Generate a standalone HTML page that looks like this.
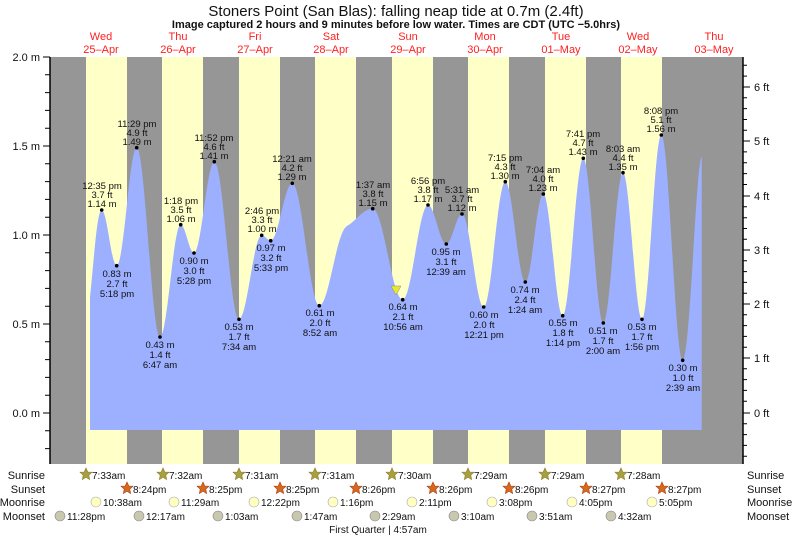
<!DOCTYPE html>
<html><head><meta charset="utf-8"><style>
body{margin:0;background:#fff}
svg{display:block;font-family:"Liberation Sans",sans-serif}
</style></head><body>
<svg width="793" height="537" viewBox="0 0 793 537">
<text x="396" y="16" font-size="15" text-anchor="middle" fill="#111">Stoners Point (San Blas): falling  neap tide at 0.7m (2.4ft)</text>
<text x="396" y="28" font-size="11" font-weight="bold" text-anchor="middle" fill="#111">Image captured 2 hours and 9 minutes before low water. Times are CDT (UTC −5.0hrs)</text>
<g font-size="11" fill="#ff2020" text-anchor="middle">
<text x="101" y="40">Wed</text><text x="101" y="53">25–Apr</text>
<text x="178" y="40">Thu</text><text x="178" y="53">26–Apr</text>
<text x="255" y="40">Fri</text><text x="255" y="53">27–Apr</text>
<text x="331" y="40">Sat</text><text x="331" y="53">28–Apr</text>
<text x="408" y="40">Sun</text><text x="408" y="53">29–Apr</text>
<text x="485" y="40">Mon</text><text x="485" y="53">30–Apr</text>
<text x="561" y="40">Tue</text><text x="561" y="53">01–May</text>
<text x="638" y="40">Wed</text><text x="638" y="53">02–May</text>
<text x="714" y="40">Thu</text><text x="714" y="53">03–May</text>
</g>
<rect x="50" y="57" width="693" height="407" fill="#969696"/>
<g fill="#ffffc8">
<rect x="86" y="57" width="41" height="407"/><rect x="162" y="57" width="41" height="407"/>
<rect x="239" y="57" width="41" height="407"/><rect x="315" y="57" width="41" height="407"/>
<rect x="392" y="57" width="41" height="407"/><rect x="468" y="57" width="41" height="407"/>
<rect x="545" y="57" width="41" height="407"/><rect x="621" y="57" width="41" height="407"/>
</g>
<path fill="#9db0ff" d="M90,430 L90,297 C94,260 97,210 101.7,210 C107.1,210 111.3,265.7 116.7,265.7 C123.9,265.7 129.5,147.7 136.7,147.7 C145.1,147.7 151.6,337 160,337 C167.5,337 173.2,224.7 180.7,224.7 C185.5,224.7 189.2,253 194,253 C201.3,253 207,161.7 214.3,161.7 C223.2,161.7 230.1,319.3 239,319.3 C247.2,319.3 253.5,235.3 261.7,235.3 C264.9,235.3 267.5,240.7 270.7,240.7 C278.5,240.7 284.5,183.3 292.3,183.3 C302,183.3 309.6,305.7 319.3,305.7 C329,305.7 336,232 347,226 C356,221 363,208.7 372.7,208.7 C383.5,208.7 391.9,299.7 402.7,299.7 C411.8,299.7 418.9,205 428,205 C434.6,205 439.7,244 446.3,244 C452,244 456.3,214 462,214 C469.8,214 475.9,307 483.7,307 C491.5,307 497.5,181.7 505.3,181.7 C512.5,181.7 518.1,282 525.3,282 C531.8,282 536.8,194 543.3,194 C550.3,194 555.7,315.7 562.7,315.7 C570.1,315.7 575.9,158.3 583.3,158.3 C590.5,158.3 596.1,323 603.3,323 C610.4,323 615.9,172.7 623,172.7 C629.8,172.7 635.2,319.3 642,319.3 C649,319.3 654.3,135 661.3,135 C669,135 675,360.3 682.7,360.3 C690,360.3 696,162 701.7,156.7 L701.7,430 Z"/>
<polygon points="391,286 401,286 396,295" fill="#e8e830" stroke="#888" stroke-width="0.5"/>
<!-- axes -->
<line x1="50" y1="57" x2="50" y2="464" stroke="#000" stroke-width="1.5"/>
<line x1="743" y1="57" x2="743" y2="464" stroke="#000" stroke-width="1.5"/>
<g stroke="#000" stroke-width="1">
<path d="M43,57H50M45,74.8H50M45,92.6H50M45,110.4H50M45,128.2H50M43,146H50M45,163.8H50M45,181.6H50M45,199.4H50M45,217.2H50M43,235H50M45,252.8H50M45,270.6H50M45,288.4H50M45,306.2H50M43,324H50M45,341.8H50M45,359.6H50M45,377.4H50M45,395.2H50M43,413H50M45,430.8H50M45,448.6H50"/>
<path d="M743,87H750M743,141H750M743,196H750M743,250H750M743,304H750M743,358H750M743,413H750"/>
<path d="M743,65.3H747M743,76.1H747M743,97.8H747M743,108.6H747M743,119.5H747M743,130.2H747M743,151.9H747M743,162.8H747M743,173.6H747M743,184.5H747M743,206.8H747M743,217.7H747M743,228.5H747M743,239.2H747M743,260.8H747M743,271.6H747M743,282.4H747M743,293.2H747M743,314.8H747M743,325.6H747M743,336.4H747M743,347.2H747M743,368.8H747M743,379.6H747M743,390.4H747M743,401.2H747M743,423.8H747M743,434.6H747M743,445.4H747M743,456.2H747"/>
</g>
<g font-size="11" fill="#111" text-anchor="end">
<text x="40" y="61">2.0 m</text><text x="40" y="150">1.5 m</text><text x="40" y="239">1.0 m</text><text x="40" y="328">0.5 m</text><text x="40" y="417">0.0 m</text>
</g>
<g font-size="11" fill="#111">
<text x="754" y="91">6 ft</text><text x="754" y="145">5 ft</text><text x="754" y="200">4 ft</text><text x="754" y="254">3 ft</text><text x="754" y="308">2 ft</text><text x="754" y="362">1 ft</text><text x="754" y="417">0 ft</text>
</g>
<!-- dots -->
<g fill="#000">
<circle cx="101.7" cy="210" r="1.8"/><circle cx="116.7" cy="265.7" r="1.8"/><circle cx="136.7" cy="147.7" r="1.8"/><circle cx="160" cy="337" r="1.8"/><circle cx="180.7" cy="224.7" r="1.8"/><circle cx="194" cy="253" r="1.8"/><circle cx="214.3" cy="161.7" r="1.8"/><circle cx="239" cy="319.3" r="1.8"/><circle cx="261.7" cy="235.3" r="1.8"/><circle cx="270.7" cy="240.7" r="1.8"/><circle cx="292.3" cy="183.3" r="1.8"/><circle cx="319.3" cy="305.7" r="1.8"/><circle cx="372.7" cy="208.7" r="1.8"/><circle cx="402.7" cy="299.7" r="1.8"/><circle cx="428" cy="205" r="1.8"/><circle cx="446.3" cy="244" r="1.8"/><circle cx="462" cy="214" r="1.8"/><circle cx="483.7" cy="307" r="1.8"/><circle cx="505.3" cy="181.7" r="1.8"/><circle cx="525.3" cy="282" r="1.8"/><circle cx="543.3" cy="194" r="1.8"/><circle cx="562.7" cy="315.7" r="1.8"/><circle cx="583.3" cy="158.3" r="1.8"/><circle cx="603.3" cy="323" r="1.8"/><circle cx="623" cy="172.7" r="1.8"/><circle cx="642" cy="319.3" r="1.8"/><circle cx="661.3" cy="135" r="1.8"/><circle cx="682.7" cy="360.3" r="1.8"/>
</g>
<g font-size="9.5" fill="#111" text-anchor="middle">
<!-- highs: time, ft, m -->
<text x="102" y="189">12:35 pm</text><text x="102" y="198">3.7 ft</text><text x="102" y="207">1.14 m</text>
<text x="137" y="127">11:29 pm</text><text x="137" y="136">4.9 ft</text><text x="137" y="145">1.49 m</text>
<text x="181" y="204">1:18 pm</text><text x="181" y="213">3.5 ft</text><text x="181" y="222">1.06 m</text>
<text x="214" y="141">11:52 pm</text><text x="214" y="150">4.6 ft</text><text x="214" y="159">1.41 m</text>
<text x="262" y="214">2:46 pm</text><text x="262" y="223">3.3 ft</text><text x="262" y="232">1.00 m</text>
<text x="292" y="162">12:21 am</text><text x="292" y="171">4.2 ft</text><text x="292" y="180">1.29 m</text>
<text x="373" y="188">1:37 am</text><text x="373" y="197">3.8 ft</text><text x="373" y="206">1.15 m</text>
<text x="428" y="184">6:56 pm</text><text x="428" y="193">3.8 ft</text><text x="428" y="202">1.17 m</text>
<text x="462" y="193">5:31 am</text><text x="462" y="202">3.7 ft</text><text x="462" y="211">1.12 m</text>
<text x="505" y="161">7:15 pm</text><text x="505" y="170">4.3 ft</text><text x="505" y="179">1.30 m</text>
<text x="543" y="173">7:04 am</text><text x="543" y="182">4.0 ft</text><text x="543" y="191">1.23 m</text>
<text x="583" y="137">7:41 pm</text><text x="583" y="146">4.7 ft</text><text x="583" y="155">1.43 m</text>
<text x="623" y="152">8:03 am</text><text x="623" y="161">4.4 ft</text><text x="623" y="170">1.35 m</text>
<text x="661" y="114">8:08 pm</text><text x="661" y="123">5.1 ft</text><text x="661" y="132">1.56 m</text>
<!-- lows: m, ft, time -->
<text x="117" y="277">0.83 m</text><text x="117" y="287">2.7 ft</text><text x="117" y="297">5:18 pm</text>
<text x="160" y="348">0.43 m</text><text x="160" y="358">1.4 ft</text><text x="160" y="368">6:47 am</text>
<text x="194" y="264">0.90 m</text><text x="194" y="274">3.0 ft</text><text x="194" y="284">5:28 pm</text>
<text x="239" y="330">0.53 m</text><text x="239" y="340">1.7 ft</text><text x="239" y="350">7:34 am</text>
<text x="271" y="251">0.97 m</text><text x="271" y="261">3.2 ft</text><text x="271" y="271">5:33 pm</text>
<text x="320" y="316">0.61 m</text><text x="320" y="326">2.0 ft</text><text x="320" y="336">8:52 am</text>
<text x="403" y="310">0.64 m</text><text x="403" y="320">2.1 ft</text><text x="403" y="330">10:56 am</text>
<text x="446" y="255">0.95 m</text><text x="446" y="265">3.1 ft</text><text x="446" y="275">12:39 am</text>
<text x="484" y="318">0.60 m</text><text x="484" y="328">2.0 ft</text><text x="484" y="338">12:21 pm</text>
<text x="525" y="293">0.74 m</text><text x="525" y="303">2.4 ft</text><text x="525" y="313">1:24 am</text>
<text x="563" y="326">0.55 m</text><text x="563" y="336">1.8 ft</text><text x="563" y="346">1:14 pm</text>
<text x="603" y="334">0.51 m</text><text x="603" y="344">1.7 ft</text><text x="603" y="354">2:00 am</text>
<text x="642" y="330">0.53 m</text><text x="642" y="340">1.7 ft</text><text x="642" y="350">1:56 pm</text>
<text x="683" y="371">0.30 m</text><text x="683" y="381">1.0 ft</text><text x="683" y="391">2:39 am</text>
</g>
<!-- bottom rows -->
<g font-size="11" fill="#111" text-anchor="end">
<text x="45" y="479">Sunrise</text><text x="45" y="493">Sunset</text><text x="45" y="506">Moonrise</text><text x="45" y="520">Moonset</text>
</g>
<g font-size="11" fill="#111">
<text x="747" y="479">Sunrise</text><text x="747" y="493">Sunset</text><text x="747" y="506">Moonrise</text><text x="747" y="520">Moonset</text>
</g>
<defs>
<polygon id="st" points="0,-6 1.8,-2 6,-1.8 2.8,1.2 3.6,5.5 0,3.3 -3.6,5.5 -2.8,1.2 -6,-1.8 -1.8,-2"/>
</defs>
<g fill="#a8a040" stroke="#8a7a20" stroke-width="0.6">
<use href="#st" x="86" y="474"/><use href="#st" x="163" y="474"/><use href="#st" x="239" y="474"/><use href="#st" x="315" y="474"/><use href="#st" x="392" y="474"/><use href="#st" x="468" y="474"/><use href="#st" x="545" y="474"/><use href="#st" x="621" y="474"/>
</g>
<g fill="#d86820" stroke="#a04010" stroke-width="0.6">
<use href="#st" x="127" y="488"/><use href="#st" x="203" y="488"/><use href="#st" x="280" y="488"/><use href="#st" x="356" y="488"/><use href="#st" x="433" y="488"/><use href="#st" x="509" y="488"/><use href="#st" x="586" y="488"/><use href="#st" x="662" y="488"/>
</g>
<g fill="#ffffc0" stroke="#aaa" stroke-width="0.6">
<circle cx="96" cy="502" r="5"/><circle cx="174" cy="502" r="5"/><circle cx="254" cy="502" r="5"/><circle cx="333" cy="502" r="5"/><circle cx="412" cy="502" r="5"/><circle cx="492" cy="502" r="5"/><circle cx="572" cy="502" r="5"/><circle cx="652" cy="502" r="5"/>
</g>
<g fill="#c8c8b0" stroke="#888" stroke-width="0.6">
<circle cx="60" cy="516" r="5"/><circle cx="139" cy="516" r="5"/><circle cx="218" cy="516" r="5"/><circle cx="297" cy="516" r="5"/><circle cx="375" cy="516" r="5"/><circle cx="454" cy="516" r="5"/><circle cx="532" cy="516" r="5"/><circle cx="611" cy="516" r="5"/>
</g>
<g font-size="10" fill="#111">
<text x="92" y="479">7:33am</text><text x="169" y="479">7:32am</text><text x="245" y="479">7:31am</text><text x="321" y="479">7:31am</text><text x="398" y="479">7:30am</text><text x="474" y="479">7:29am</text><text x="551" y="479">7:29am</text><text x="627" y="479">7:28am</text>
<text x="133" y="493">8:24pm</text><text x="209" y="493">8:25pm</text><text x="286" y="493">8:25pm</text><text x="362" y="493">8:26pm</text><text x="439" y="493">8:26pm</text><text x="515" y="493">8:26pm</text><text x="592" y="493">8:27pm</text><text x="668" y="493">8:27pm</text>
<text x="103" y="506">10:38am</text><text x="181" y="506">11:29am</text><text x="261" y="506">12:22pm</text><text x="340" y="506">1:16pm</text><text x="419" y="506">2:11pm</text><text x="499" y="506">3:08pm</text><text x="579" y="506">4:05pm</text><text x="659" y="506">5:05pm</text>
<text x="67" y="520">11:28pm</text><text x="146" y="520">12:17am</text><text x="225" y="520">1:03am</text><text x="304" y="520">1:47am</text><text x="382" y="520">2:29am</text><text x="461" y="520">3:10am</text><text x="539" y="520">3:51am</text><text x="618" y="520">4:32am</text>
<text x="378" y="533" text-anchor="middle">First Quarter | 4:57am</text>
</g>
</svg>
</body></html>
